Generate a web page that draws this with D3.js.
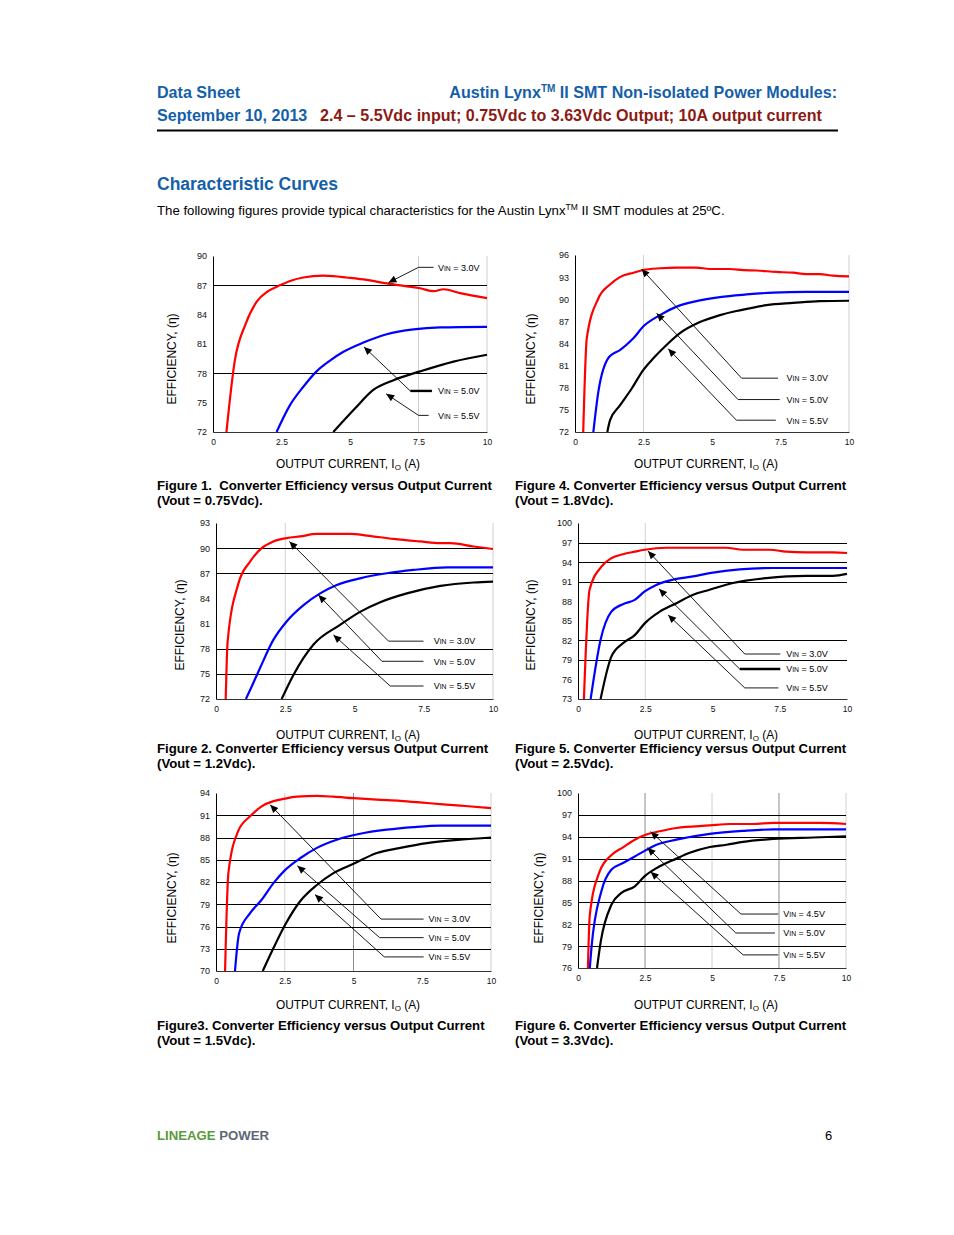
<!DOCTYPE html>
<html><head><meta charset="utf-8">
<script src="https://cdn.jsdelivr.net/npm/d3@7"></script>
<style>
html,body{margin:0;padding:0;background:#fff;}
svg{display:block;font-family:"Liberation Sans",Arial,Helvetica,sans-serif;}
</style></head>
<body>
<svg id="page" width="954" height="1235"></svg>
<script>
// ---------- DATA ----------
const xTicks = [0, 2.5, 5, 7.5, 10];
const xTickLabels = ["0", "2.5", "5", "7.5", "10"];

// Figure 1 (Vout = 0.75Vdc)
const fig1_yTicks = [72, 75, 78, 81, 84, 87, 90];
const fig1_vin30 = [[0.49,72],[0.79,79.2],[1.2,83.1],[1.59,85.3],[2.01,86.4],[2.44,87.0],[2.87,87.5],[3.29,87.8],[4.02,88.0],[4.39,87.95],[4.88,87.8],[5.61,87.55],[6.34,87.2],[7.07,86.9],[7.56,86.7],[8.05,86.4],[8.41,86.6],[9.02,86.2],[10,85.7]];
const fig1_vin50 = [[2.32,72],[2.8,74.7],[3.29,76.6],[3.78,78.2],[4.27,79.3],[4.76,80.2],[5.49,81.15],[6.34,82.0],[7.32,82.5],[8.29,82.7],[10,82.76]];
const fig1_vin55 = [[4.39,72],[5.18,74.4],[5.85,76.3],[6.59,77.3],[7.56,78.2],[8.78,79.2],[10,79.9]];
const fig1_labels = ["3.0V", "5.0V", "5.5V"];

// Figure 4 (Vout = 1.8Vdc)
const fig4_yTicks = [72, 75, 78, 81, 84, 87, 90, 93, 96];
const fig4_vin30 = [[0.3,72],[0.43,84.7],[0.85,90.1],[1.28,92.0],[1.64,93.0],[2.13,93.6],[2.49,93.96],[3.1,94.2],[3.71,94.3],[4.43,94.3],[4.92,94.1],[5.65,94.1],[6.14,93.96],[6.62,93.9],[7.35,93.7],[7.96,93.6],[8.44,93.4],[8.93,93.4],[9.42,93.2],[10,93.1]];
const fig4_vin50 = [[0.67,72],[0.85,77.4],[1.25,82.2],[1.64,83.1],[2.13,84.7],[2.49,86.3],[3.1,87.85],[3.71,89.0],[4.43,89.75],[5.29,90.3],[6.26,90.65],[7.23,90.9],[8.44,91.0],[10,91.0]];
const fig4_vin55 = [[1.18,72],[1.28,73.6],[1.64,75.6],[2.07,77.9],[2.49,80.4],[2.86,82.0],[3.34,83.8],[3.83,85.4],[4.56,86.9],[5.29,87.85],[6.01,88.5],[6.99,89.2],[7.96,89.5],[8.93,89.75],[10,89.8]];
const fig4_labels = ["3.0V", "5.0V", "5.5V"];

// Figure 2 (Vout = 1.2Vdc)
const fig2_yTicks = [72, 75, 78, 81, 84, 87, 90, 93];
const fig2_vin30 = [[0.35,72],[0.42,78.85],[0.81,85.8],[1.23,88.4],[1.65,90.0],[2.07,90.8],[2.55,91.2],[3.04,91.4],[3.64,91.7],[4.84,91.7],[5.45,91.5],[6.41,91.1],[7.37,90.8],[8.1,90.6],[8.46,90.6],[9.3,90.2],[10,89.9]];
const fig2_vin50 = [[1.08,72],[1.29,73.5],[1.59,75.7],[2.07,79.05],[2.55,81.25],[3.16,83.2],[3.76,84.6],[4.36,85.6],[5.2,86.4],[6.17,87.0],[7.13,87.4],[8.34,87.7],[10,87.7]];
const fig2_vin55 = [[2.37,72],[2.8,74.9],[3.52,78.5],[4.48,80.85],[5.2,82.4],[5.93,83.55],[6.89,84.6],[8.1,85.5],[9.3,85.9],[10,86.0]];
const fig2_labels = ["3.0V", "5.0V", "5.5V"];

// Figure 5 (Vout = 2.5Vdc)
const fig5_yTicks = [73, 76, 79, 82, 85, 88, 91, 94, 97, 100];
const fig5_vin30 = [[0.22,73],[0.43,89.75],[0.87,93.3],[1.24,94.6],[1.67,95.2],[2.11,95.6],[2.48,95.9],[3.28,96.2],[5.51,96.2],[6.13,95.9],[7.13,95.9],[7.74,95.6],[8.49,95.5],[9.48,95.5],[10,95.4]];
const fig5_vin50 = [[0.47,73],[0.84,82.1],[1.24,86.4],[1.67,87.55],[2.11,88.2],[2.48,89.5],[2.91,90.5],[3.53,91.3],[4.28,91.8],[4.89,92.3],[6.01,92.9],[7.25,93.1],[10,93.1]];
const fig5_vin55 = [[0.84,73],[1.24,79.5],[1.67,81.55],[2.11,82.8],[2.48,84.6],[3.04,86.4],[3.66,87.7],[4.28,89.0],[4.89,89.75],[5.76,90.8],[7.0,91.55],[8.49,91.9],[9.48,91.9],[10,92.2]];
const fig5_labels = ["3.0V", "5.0V", "5.5V"];

// Figure 3 (Vout = 1.5Vdc)
const fig3_yTicks = [70, 73, 76, 79, 82, 85, 88, 91, 94];
const fig3_vin30 = [[0.33,70],[0.45,83.2],[0.81,88.9],[1.24,90.85],[1.66,92.2],[2.09,92.9],[2.45,93.2],[2.94,93.5],[3.67,93.6],[4.27,93.5],[5.0,93.3],[5.85,93.1],[6.7,92.95],[7.67,92.65],[8.88,92.3],[10,91.97]];
const fig3_vin50 = [[0.69,70],[0.84,75.1],[1.24,77.8],[1.66,79.6],[2.09,81.85],[2.51,83.6],[3.06,85.2],[3.67,86.6],[4.39,87.7],[5.24,88.5],[6.21,89.05],[7.18,89.4],[8.16,89.6],[10,89.6]];
const fig3_vin55 = [[1.7,70],[2.09,73.1],[2.51,76.2],[3.06,79.4],[3.67,81.6],[4.27,83.2],[5.0,84.45],[5.85,85.9],[6.7,86.6],[7.67,87.25],[8.88,87.7],[10,88.0]];
const fig3_labels = ["3.0V", "5.0V", "5.5V"];

// Figure 6 (Vout = 3.3Vdc)
const fig6_yTicks = [76, 79, 82, 85, 88, 91, 94, 97, 100];
const fig6_vin45 = [[0.37,76],[0.44,83.3],[0.81,89.25],[1.25,91.5],[1.68,92.55],[2.12,93.6],[2.55,94.3],[3.05,94.75],[3.67,95.2],[4.92,95.55],[5.67,95.75],[6.54,95.75],[7.29,95.9],[9.03,95.9],[10,95.75]];
const fig6_vin50 = [[0.44,76],[0.5,78.7],[0.87,86.5],[1.25,89.5],[1.68,90.4],[2.12,91.3],[2.55,92.2],[2.93,92.9],[3.67,93.6],[4.92,94.4],[6.16,94.8],[7.29,95.0],[10,95.0]];
const fig6_vin55 = [[0.71,76],[0.85,79.65],[1.25,84.7],[1.62,86.3],[2.12,87.2],[2.49,88.6],[2.93,89.7],[3.67,91.0],[4.17,91.8],[4.92,92.6],[5.54,92.9],[6.16,93.3],[7.29,93.7],[8.78,93.9],[10,94.05]];
const fig6_labels = ["4.5V", "5.0V", "5.5V"];

// ---------- LAYOUT / STYLE ----------
const BLUE = "#155fa9", DARKRED = "#8b1a14";
const seriesColors = ["#ff0000", "#0000ff", "#000000"];

// annotation geometry (data units): tip, elbow, end-x of horizontal stub, text-x
const charts = [
  { id:1, box:[213,487,256,432], yTicks:fig1_yTicks, series:[fig1_vin30,fig1_vin50,fig1_vin55], labels:fig1_labels,
    hGrid:[87,78], vGrid:[[7.5,"#d0d0d0"],[10,"#d0d0d0"]], yTitle:[172,359], xTitle:[348,468],
    notes:[{tip:[6.40,87.27],elbow:[7.5,88.84],end:8.05,tx:8.21,thick:false},
           {tip:[5.51,80.7],elbow:[7.2,76.2],end:7.99,tx:8.21,thick:true},
           {tip:[6.32,75.9],elbow:[7.5,73.7],end:7.87,tx:8.21,thick:false}]},
  { id:4, box:[575,849,255,432], yTicks:fig4_yTicks, series:[fig4_vin30,fig4_vin50,fig4_vin55], labels:fig4_labels,
    hGrid:[], vGrid:[[2.5,"#d0d0d0"],[10,"#d0d0d0"]], yTitle:[531,359], xTitle:[706,468],
    notes:[{tip:[2.43,94.1],elbow:[6.08,79.3],end:7.41,tx:7.72,thick:false},
           {tip:[2.98,88.1],elbow:[5.95,76.4],end:7.47,tx:7.72,thick:false},
           {tip:[3.40,83.3],elbow:[5.89,73.6],end:7.33,tx:7.72,thick:false}]},
  { id:2, box:[216,493,523,699], yTicks:fig2_yTicks, series:[fig2_vin30,fig2_vin50,fig2_vin55], labels:fig2_labels,
    hGrid:[90,87,78,75], vGrid:[[2.5,"#d0d0d0"],[10,"#d0d0d0"]], yTitle:[180,625], xTitle:[348,739],
    notes:[{tip:[2.65,90.8],elbow:[6.23,78.9],end:7.49,tx:7.86,thick:false},
           {tip:[3.70,84.4],elbow:[5.99,76.5],end:7.49,tx:7.86,thick:false},
           {tip:[4.24,79.65],elbow:[6.29,73.55],end:7.49,tx:7.86,thick:false}]},
  { id:5, box:[578,847,523,699], yTicks:fig5_yTicks, series:[fig5_vin30,fig5_vin50,fig5_vin55], labels:fig5_labels,
    hGrid:[97,94,91,82,79], vGrid:[[2.5,"#d0d0d0"]], yTitle:[531,625], xTitle:[706,739],
    notes:[{tip:[2.60,95.7],elbow:[6.20,79.9],end:7.52,tx:7.74,thick:false},
           {tip:[3.01,89.9],elbow:[6.01,77.6],end:7.52,tx:7.74,thick:true},
           {tip:[3.35,85.9],elbow:[6.20,74.7],end:7.45,tx:7.74,thick:false}]},
  { id:3, box:[216,491,793,971], yTicks:fig3_yTicks, series:[fig3_vin30,fig3_vin50,fig3_vin55], labels:fig3_labels,
    hGrid:[91,88,85,82,79,76,73], vGrid:[[2.5,"#d0d0d0"],[5,"#8c8c8c"],[10,"#d0d0d0"]], yTitle:[172,898], xTitle:[348,1009],
    notes:[{tip:[1.97,92.4],elbow:[6.0,77.0],end:7.55,tx:7.73,thick:false},
           {tip:[2.96,84.2],elbow:[5.95,74.5],end:7.55,tx:7.73,thick:false},
           {tip:[3.60,80.3],elbow:[6.12,71.9],end:7.55,tx:7.73,thick:false}]},
  { id:6, box:[578,846,793,968], yTicks:fig6_yTicks, series:[fig6_vin45,fig6_vin50,fig6_vin55], labels:fig6_labels,
    hGrid:[97,94,91,88,85,82,79], vGrid:[[2.5,"#8c8c8c"],[5,"#d0d0d0"],[7.5,"#8c8c8c"],[10,"#d0d0d0"]], yTitle:[539,898], xTitle:[706,1009],
    notes:[{tip:[2.71,94.7],elbow:[6.08,83.4],end:7.47,tx:7.66,thick:false},
           {tip:[2.59,92.5],elbow:[5.89,80.8],end:7.35,tx:7.66,thick:false},
           {tip:[2.71,89.2],elbow:[6.16,77.8],end:7.47,tx:7.66,thick:false}]}
];

const captions = [
  {x:157, y:490, l1:"Figure 1.  Converter Efficiency versus Output Current", l2:"(Vout = 0.75Vdc)."},
  {x:515, y:490, l1:"Figure 4. Converter Efficiency versus Output Current", l2:"(Vout = 1.8Vdc)."},
  {x:157, y:753, l1:"Figure 2. Converter Efficiency versus Output Current", l2:"(Vout = 1.2Vdc)."},
  {x:515, y:753, l1:"Figure 5. Converter Efficiency versus Output Current", l2:"(Vout = 2.5Vdc)."},
  {x:157, y:1030, l1:"Figure3. Converter Efficiency versus Output Current", l2:"(Vout = 1.5Vdc)."},
  {x:515, y:1030, l1:"Figure 6. Converter Efficiency versus Output Current", l2:"(Vout = 3.3Vdc)."}
];

// ---------- DRAW ----------
const svg = d3.select("#page");

svg.append("defs").append("marker")
  .attr("id","arrow").attr("viewBox","0 -5 10 10")
  .attr("refX",10).attr("refY",0)
  .attr("markerWidth",11).attr("markerHeight",8).attr("markerUnits","userSpaceOnUse")
  .attr("orient","auto")
  .append("path").attr("d","M0,-4.5L10,0L0,4.5Z").attr("fill","#000");

// header
const HF = 16.1;
svg.append("text").attr("x",157).attr("y",98).attr("font-size",HF).attr("font-weight","bold").attr("fill",BLUE).text("Data Sheet");
const h2 = svg.append("text").attr("x",837).attr("y",98).attr("font-size",HF).attr("font-weight","bold").attr("fill",BLUE).attr("text-anchor","end");
h2.append("tspan").text("Austin Lynx");
h2.append("tspan").attr("font-size",10).attr("dy",-6).text("TM");
h2.append("tspan").attr("dy",6).text(" II SMT Non-isolated Power Modules:");
svg.append("text").attr("x",157).attr("y",121).attr("font-size",HF).attr("font-weight","bold").attr("fill",BLUE).text("September 10, 2013");
svg.append("text").attr("x",320).attr("y",121).attr("font-size",HF).attr("font-weight","bold").attr("fill",DARKRED).text("2.4 \u2013 5.5Vdc input; 0.75Vdc to 3.63Vdc Output; 10A output current");
svg.append("line").attr("x1",157).attr("x2",838).attr("y1",130.5).attr("y2",130.5).attr("stroke","#000").attr("stroke-width",2);

svg.append("text").attr("x",157).attr("y",190).attr("font-size",17.5).attr("font-weight","bold").attr("fill",BLUE).text("Characteristic Curves");
const intro = svg.append("text").attr("x",157).attr("y",215).attr("font-size",13.2).attr("fill","#000");
intro.append("tspan").text("The following figures provide typical characteristics for the Austin Lynx");
intro.append("tspan").attr("font-size",8.5).attr("dy",-5).text("TM");
intro.append("tspan").attr("dy",5).text(" II SMT modules at 25\u00BAC.");

// charts
charts.forEach(c => {
  const [x0,x1,y0,y1] = c.box;
  const yDom = [c.yTicks[0], c.yTicks[c.yTicks.length-1]];
  const x = d3.scaleLinear().domain([0,10]).range([x0,x1]);
  const y = d3.scaleLinear().domain(yDom).range([y1,y0]);
  const g = svg.append("g");

  g.selectAll(".vg").data(c.vGrid).join("line")
    .attr("x1",d=>x(d[0])).attr("x2",d=>x(d[0])).attr("y1",y0).attr("y2",y1)
    .attr("stroke",d=>d[1]).attr("stroke-width",1);
  g.selectAll(".hg").data(c.hGrid).join("line")
    .attr("x1",x0).attr("x2",x1).attr("y1",d=>Math.round(y(d))+0.5).attr("y2",d=>Math.round(y(d))+0.5)
    .attr("stroke","#000").attr("stroke-width",1);

  const ya = d3.axisLeft(y).tickValues(c.yTicks).tickSize(0).tickPadding(6).tickFormat(d3.format("d"));
  const yg = g.append("g").attr("transform",`translate(${x0},0)`).call(ya);
  yg.select(".domain").attr("stroke","#000").attr("stroke-width",1);
  yg.selectAll("text").attr("font-size",9).attr("font-family","'Liberation Sans',Arial,sans-serif").attr("fill","#111");

  const xa = d3.axisBottom(x).tickValues(xTicks).tickSize(0).tickPadding(7).tickFormat((d,i)=>xTickLabels[i]);
  const xg = g.append("g").attr("transform",`translate(0,${y1})`).call(xa);
  xg.select(".domain").attr("stroke","#000").attr("stroke-width",0.8);
  xg.selectAll("text").attr("font-size",8.5).attr("font-family","'Liberation Sans',Arial,sans-serif").attr("fill","#111");

  const clipId = "clip"+c.id;
  svg.select("defs").append("clipPath").attr("id",clipId)
    .append("rect").attr("x",x0).attr("y",y0-2).attr("width",x1-x0+2).attr("height",y1-y0+2);

  const line = d3.line().x(d=>x(d[0])).y(d=>y(d[1])).curve(d3.curveMonotoneX);
  g.append("g").attr("clip-path",`url(#${clipId})`)
    .selectAll("path").data(c.series).join("path")
    .attr("d",line).attr("fill","none")
    .attr("stroke",(d,i)=>seriesColors[i]).attr("stroke-width",2.2)
    .attr("stroke-linejoin","round");

  c.notes.forEach((n,i) => {
    g.append("line")
      .attr("x1",x(n.elbow[0])).attr("y1",y(n.elbow[1]))
      .attr("x2",x(n.tip[0])).attr("y2",y(n.tip[1]))
      .attr("stroke","#000").attr("stroke-width",0.9).attr("marker-end","url(#arrow)");
    g.append("line")
      .attr("x1",x(n.elbow[0])).attr("y1",y(n.elbow[1]))
      .attr("x2",x(n.end)).attr("y2",y(n.elbow[1]))
      .attr("stroke","#000").attr("stroke-width",n.thick?2.4:0.9);
    const t = g.append("text").attr("x",x(n.tx)).attr("y",y(n.elbow[1])+3.3)
      .attr("font-size",9).attr("fill","#000");
    t.append("tspan").text("V");
    t.append("tspan").attr("font-size",6.8).text("IN");
    t.append("tspan").text(" = " + c.labels[i]);
  });

  svg.append("text").attr("transform",`translate(${c.yTitle[0]},${c.yTitle[1]}) rotate(-90)`)
    .attr("text-anchor","middle").attr("dy","0.35em").attr("font-size",12).attr("fill","#000")
    .text("EFFICIENCY, (\u03B7)");
  const xt = svg.append("text").attr("x",c.xTitle[0]).attr("y",c.xTitle[1])
    .attr("text-anchor","middle").attr("font-size",11.9).attr("fill","#000");
  xt.append("tspan").text("OUTPUT CURRENT, I");
  xt.append("tspan").attr("font-size",8).attr("dy",1.5).text("O");
  xt.append("tspan").attr("dy",-1.5).text(" (A)");
});

captions.forEach(cp => {
  svg.append("text").attr("x",cp.x).attr("y",cp.y).attr("font-size",13.2).attr("font-weight","bold")
    .style("white-space","pre").attr("fill","#000").text(cp.l1);
  svg.append("text").attr("x",cp.x).attr("y",cp.y+15).attr("font-size",13.2).attr("font-weight","bold")
    .attr("fill","#000").text(cp.l2);
});

const ft = svg.append("text").attr("x",157).attr("y",1140).attr("font-size",13.2).attr("font-weight","bold");
ft.append("tspan").attr("fill","#5b9a3c").text("LINEAGE");
ft.append("tspan").attr("fill","#5d6874").text(" POWER");
svg.append("text").attr("x",825).attr("y",1140).attr("font-size",13).attr("fill","#000").text("6");
</script>
</body></html>
